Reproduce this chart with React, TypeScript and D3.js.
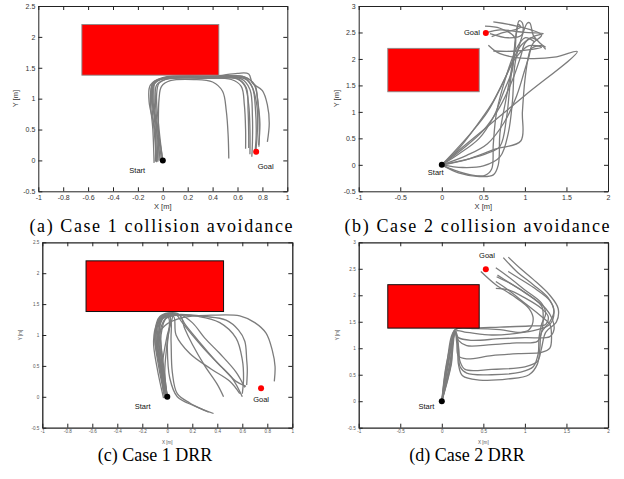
import React, { useEffect, useRef } from "react"
import * as d3 from "d3"

type Pt = [number, number]

// obstacle and goal positions, metres
const obstacleX: Pt = [-0.65, 0.45]
const obstacleY: Pt = [1.38, 2.2]
const startPoint: Pt = [0, 0]
const goalCase1: Pt = [0.75, 0.14]
const goalCase2: Pt = [0.53, 2.49]

const xTicksCase1 = [-1, -0.8, -0.6, -0.4, -0.2, 0, 0.2, 0.4, 0.6, 0.8, 1]
const yTicksCase1 = [-0.5, 0, 0.5, 1, 1.5, 2, 2.5]
const xTicksCase2 = [-1, -0.5, 0, 0.5, 1, 1.5, 2]
const yTicksCase2 = [-0.5, 0, 0.5, 1, 1.5, 2, 2.5, 3]

const captionLabels = [
  "(a) Case 1 collision avoidance",
  "(b) Case 2 collision avoidance",
  "(c) Case 1 DRR",
  "(d) Case 2 DRR",
]

// (a) case 1, collision avoidance runs
const case1Avoid: Pt[][] = [
  [[-0.03, 0.0], [-0.035, 0.5], [-0.03, 1.0], [-0.01, 1.2], [0.06, 1.29], [0.25, 1.31], [0.4, 1.27], [0.48, 1.12], [0.51, 0.8], [0.525, 0.4], [0.53, 0.03]],
  [[-0.01, 0.0], [-0.04, 0.5], [-0.06, 1.0], [-0.05, 1.22], [0.02, 1.31], [0.3, 1.33], [0.55, 1.31], [0.63, 1.2], [0.655, 0.9], [0.665, 0.5], [0.665, 0.19]],
  [[-0.05, -0.03], [-0.06, 0.5], [-0.08, 1.0], [-0.07, 1.23], [0.0, 1.32], [0.35, 1.34], [0.6, 1.32], [0.67, 1.18], [0.685, 0.8], [0.69, 0.4], [0.69, 0.2]],
  [[-0.07, -0.04], [-0.08, 0.5], [-0.1, 1.0], [-0.08, 1.25], [0.0, 1.33], [0.4, 1.33], [0.63, 1.32], [0.7, 1.15], [0.72, 0.7], [0.72, 0.3], [0.715, 0.06]],
  [[0.0, 0.0], [-0.04, 0.5], [-0.09, 1.0], [-0.08, 1.25], [0.02, 1.34], [0.45, 1.35], [0.66, 1.32], [0.72, 1.18], [0.745, 0.8], [0.75, 0.4], [0.74, 0.12]],
  [[-0.06, -0.02], [-0.06, 0.45], [-0.11, 0.95], [-0.1, 1.22], [0.0, 1.34], [0.45, 1.36], [0.68, 1.33], [0.74, 1.2], [0.77, 0.8], [0.775, 0.45], [0.772, 0.22]],
  [[-0.04, -0.02], [-0.05, 0.5], [-0.07, 1.0], [-0.06, 1.27], [0.04, 1.35], [0.4, 1.36], [0.6, 1.41], [0.69, 1.4], [0.72, 1.25], [0.8, 1.13], [0.84, 0.9], [0.855, 0.6], [0.84, 0.3]],
  [[-0.02, 0.0], [-0.05, 0.5], [-0.08, 1.0], [-0.07, 1.26], [0.03, 1.34], [0.45, 1.35], [0.64, 1.36], [0.71, 1.22], [0.755, 0.9], [0.76, 0.5], [0.745, 0.1]],
  [[-0.05, 0.0], [-0.07, 0.5], [-0.09, 1.0], [-0.08, 1.24], [0.0, 1.32], [0.4, 1.34], [0.6, 1.32], [0.66, 1.2], [0.69, 0.9], [0.7, 0.5], [0.7, 0.1]],
  [[0.0, -0.01], [-0.03, 0.5], [-0.05, 1.05], [-0.03, 1.25], [0.05, 1.33], [0.45, 1.37], [0.66, 1.35], [0.74, 1.22], [0.76, 1.0], [0.78, 0.6], [0.77, 0.25]],
]

// (b) case 2, collision avoidance runs
const case2Avoid: Pt[][] = [
  [[0, 0], [0.5, 0.66], [1.0, 1.31], [1.63, 2.14], [1.38, 2.04], [1.02, 2.01], [0.7, 2.1], [0.56, 2.26]],
  [[0, 0], [0.2, -0.15], [0.45, -0.22], [0.62, -0.19], [0.68, 0.0], [0.7, 0.6], [0.78, 1.3], [0.86, 2.0], [0.9, 2.5], [0.93, 2.72], [0.97, 2.68], [0.96, 2.45], [0.8, 2.4], [0.58, 2.48]],
  [[0, 0], [0.25, -0.05], [0.5, -0.02], [0.7, 0.15], [0.8, 0.6], [0.85, 1.2], [0.88, 1.9], [0.95, 2.35], [1.03, 2.68], [1.06, 2.68], [1.1, 2.45], [1.18, 2.3], [1.25, 2.22]],
  [[0, 0], [0.3, 0.1], [0.65, 0.3], [0.95, 0.45], [0.97, 1.0], [1.0, 1.6], [1.05, 2.1], [1.1, 2.3], [1.2, 2.45], [0.9, 2.62], [0.62, 2.7]],
  [[0, 0], [0.15, 0.25], [0.35, 0.6], [0.55, 1.0], [0.72, 1.5], [0.85, 1.95], [0.95, 2.25], [1.1, 2.42], [1.22, 2.48], [1.0, 2.5], [0.7, 2.55], [0.55, 2.5]],
  [[0, 0], [0.2, 0.3], [0.4, 0.7], [0.6, 1.15], [0.75, 1.6], [0.88, 2.0], [1.05, 2.25], [1.2, 2.22], [0.9, 2.15], [0.62, 2.15]],
  [[0, 0], [0.25, 0.3], [0.5, 0.65], [0.7, 1.1], [0.85, 1.6], [0.95, 2.05], [1.0, 2.3], [1.08, 2.4], [1.15, 2.35]],
  [[0, 0], [0.2, 0.2], [0.45, 0.5], [0.62, 0.9], [0.75, 1.4], [0.85, 1.8], [0.88, 2.3], [0.92, 2.65], [0.95, 2.6], [0.7, 2.48], [0.6, 2.42]],
  [[0, 0], [0.3, 0.18], [0.55, 0.4], [0.75, 0.8], [0.9, 1.3], [1.0, 1.8], [1.05, 2.05], [1.08, 2.2], [1.2, 2.25], [1.25, 2.18]],
  [[0, 0], [0.35, 0.12], [0.55, 0.22], [0.7, 0.35], [0.78, 0.9], [0.82, 1.5], [0.86, 2.0], [0.88, 2.4], [0.7, 2.58], [0.52, 2.62]],
  [[0, 0], [0.15, -0.1], [0.35, -0.19], [0.52, -0.2], [0.6, -0.08], [0.62, 0.4], [0.66, 1.0], [0.78, 1.7], [0.9, 2.2], [1.0, 2.4], [1.12, 2.32]],
]

// (c) case 1, DRR runs
const case1Drr: Pt[][] = [
  [[0, 0], [-0.05, 0.5], [-0.08, 0.95], [-0.02, 1.15], [0.12, 1.28], [0.35, 1.32], [0.58, 1.31], [0.7, 1.2], [0.79, 1.03], [0.84, 0.75], [0.862, 0.49], [0.856, 0.25]],
  [[-0.01, 0], [-0.06, 0.5], [-0.09, 1.0], [-0.05, 1.27], [0.08, 1.33], [0.3, 1.3], [0.47, 1.24], [0.57, 1.08], [0.62, 0.9], [0.635, 0.6], [0.64, 0.45], [0.635, 0.19]],
  [[0, 0], [-0.04, 0.5], [-0.07, 1.0], [-0.04, 1.28], [0.06, 1.34], [0.12, 1.2], [0.2, 1.0], [0.32, 0.72], [0.45, 0.45], [0.55, 0.25], [0.63, 0.17]],
  [[-0.02, 0], [-0.07, 0.5], [-0.1, 1.0], [-0.06, 1.3], [0.08, 1.35], [0.15, 1.15], [0.26, 0.88], [0.4, 0.55], [0.52, 0.3], [0.6, 0.0]],
  [[0, 0], [-0.03, 0.5], [-0.05, 1.0], [0.0, 1.3], [0.1, 1.32], [0.14, 1.1], [0.2, 0.85], [0.3, 0.5], [0.4, 0.2], [0.45, 0.0]],
  [[0, 0], [-0.05, 0.5], [-0.08, 1.0], [-0.04, 1.3], [0.02, 1.3], [0.03, 0.9], [0.04, 0.4], [0.08, 0.05], [0.18, -0.1], [0.33, -0.25]],
  [[-0.02, -0.02], [-0.06, 0.5], [-0.09, 1.0], [-0.05, 1.3], [0.01, 1.28], [0.0, 0.8], [0.02, 0.3], [0.08, 0.0], [0.22, -0.15], [0.37, -0.27]],
  [[0, 0], [-0.04, 0.5], [-0.06, 1.0], [-0.02, 1.25], [0.05, 1.3], [0.07, 1.0], [0.18, 0.7], [0.35, 0.45], [0.5, 0.25], [0.58, 0.05]],
  [[0, 0], [-0.05, 0.5], [-0.07, 1.0], [-0.03, 1.28], [0.1, 1.33], [0.2, 1.2], [0.3, 0.95], [0.42, 0.7], [0.55, 0.4], [0.62, 0.15]],
  [[-0.01, 0], [-0.06, 0.5], [-0.1, 0.95], [-0.07, 1.2], [0.0, 1.3], [0.1, 1.32], [0.25, 1.3], [0.42, 1.2], [0.55, 0.95], [0.6, 0.6], [0.61, 0.3], [0.6, 0.05]],
  [[-0.03, -0.02], [-0.08, 0.45], [-0.11, 0.9], [-0.08, 1.2], [-0.03, 1.32], [0.02, 1.3], [0.0, 0.9], [-0.02, 0.4], [0.0, 0.0]],
  [[-0.01, 0], [-0.04, 0.6], [-0.06, 1.1], [-0.05, 1.3], [0.04, 1.34], [0.0, 1.0], [-0.04, 0.5], [-0.03, 0.05]],
]

// (d) case 2, DRR runs
const case2Drr: Pt[][] = [
  [[0, 0], [0.055, 0.7], [0.16, 1.32], [0.19, 1.1], [0.2, 0.7], [0.25, 0.48], [0.45, 0.4], [0.8, 0.42], [1.05, 0.5], [1.15, 0.7], [1.18, 1.0], [1.2, 1.3], [1.3, 1.5], [1.35, 1.7], [1.28, 1.95], [1.1, 2.2], [0.9, 2.45], [0.74, 2.71]],
  [[0, 0], [0.11, 0.7], [0.16, 1.3], [0.2, 1.0], [0.22, 0.65], [0.3, 0.53], [0.6, 0.5], [0.95, 0.55], [1.1, 0.65], [1.16, 0.9], [1.17, 1.2], [1.2, 1.45], [1.25, 1.65], [1.2, 1.85], [1.0, 2.1], [0.8, 2.35], [0.65, 2.52]],
  [[0, 0], [0.07, 0.7], [0.16, 1.32], [0.18, 1.1], [0.2, 0.85], [0.3, 0.8], [0.6, 0.86], [0.95, 0.9], [1.2, 0.92], [1.3, 1.0], [1.32, 1.25], [1.3, 1.45], [1.2, 1.6], [1.0, 1.85], [0.8, 2.1], [0.65, 2.26]],
  [[0, 0], [0.095, 0.7], [0.16, 1.3], [0.2, 1.15], [0.3, 1.05], [0.6, 1.07], [0.9, 1.1], [1.15, 1.13], [1.2, 1.3], [1.22, 1.6], [1.2, 1.8], [1.0, 2.05], [0.8, 2.25], [0.67, 2.38]],
  [[0, 0], [0.08, 0.7], [0.16, 1.32], [0.3, 1.3], [0.6, 1.25], [0.9, 1.28], [1.15, 1.35], [1.3, 1.45], [1.35, 1.7], [1.3, 1.9], [1.1, 2.15], [0.9, 2.35], [0.8, 2.45]],
  [[0, 0], [0.115, 0.7], [0.16, 1.35], [0.4, 1.37], [0.7, 1.35], [0.95, 1.3], [1.05, 1.35], [1.1, 1.55], [1.05, 1.75], [0.85, 2.0], [0.65, 2.2], [0.47, 2.45]],
  [[0, 0], [0.06, 0.7], [0.16, 1.35], [0.35, 1.38], [0.7, 1.4], [1.05, 1.42], [1.25, 1.45], [1.28, 1.6], [1.2, 1.75], [1.0, 1.95], [0.8, 2.1], [0.65, 2.13]],
  [[0, 0], [0.1, 0.7], [0.16, 1.3], [0.2, 1.2], [0.35, 1.15], [0.7, 1.18], [1.0, 1.2], [1.3, 1.22], [1.35, 1.35], [1.33, 1.55], [1.25, 1.75], [1.05, 2.0], [0.85, 2.2], [0.66, 2.35]],
  [[0, 0], [0.075, 0.7], [0.17, 1.32], [0.2, 1.05], [0.22, 0.75], [0.28, 0.6], [0.6, 0.6], [1.0, 0.65], [1.15, 0.75], [1.2, 1.0], [1.25, 1.3], [1.38, 1.5], [1.4, 1.75], [1.3, 2.0], [1.1, 2.3], [0.95, 2.5], [0.8, 2.72]],
]

const panels = [
  { runs: case1Avoid, goal: goalCase1, xDomain: [-1, 1], yDomain: [-0.5, 2.5], xTicks: xTicksCase1, yTicks: yTicksCase1,
    left: 38.3, right: 287.3, top: 6, bottom: 191.3, small: false,
    startLabel: [-0.205, -0.158], goalLabel: [0.826, -0.089], caption: 0, capX: 161, capY: 232, capLen: 263 },
  { runs: case2Avoid, goal: goalCase2, xDomain: [-1, 2], yDomain: [-0.5, 3], xTicks: xTicksCase2, yTicks: yTicksCase2,
    left: 358.7, right: 608, top: 6, bottom: 191.3, small: false,
    startLabel: [-0.073, -0.15], goalLabel: [0.363, 2.5], caption: 1, capX: 477, capY: 232, capLen: 265 },
  { runs: case1Drr, goal: goalCase1, xDomain: [-1, 1], yDomain: [-0.5, 2.5], xTicks: xTicksCase1, yTicks: yTicksCase1,
    left: 42.3, right: 292.3, top: 242.3, bottom: 427.7, small: true,
    startLabel: [-0.198, -0.154], goalLabel: [0.75, -0.036], caption: 2, capX: 155, capY: 461, capLen: 0 },
  { runs: case2Drr, goal: goalCase2, xDomain: [-1, 2], yDomain: [-0.5, 3], xTicks: xTicksCase2, yTicks: yTicksCase2,
    left: 358.7, right: 608, top: 242.3, bottom: 427.7, small: true,
    startLabel: [-0.186, -0.104], goalLabel: [0.544, 2.76], caption: 3, capX: 467, capY: 461, capLen: 0 },
]

const drawPanel = (svg, p) => {
  const x = d3.scaleLinear().domain(p.xDomain).range([p.left, p.right])
  const y = d3.scaleLinear().domain(p.yDomain).range([p.bottom, p.top])
  const tickFont = p.small ? 4.6 : 7
  const tickColor = p.small ? "#555" : "#333"
  const g = svg.append("g")

  const fmt = d => String(d)
  const styleAxis = sel => {
    sel.select(".domain").attr("stroke", "#222").attr("stroke-width", p.small ? 1.3 : 1)
    sel.selectAll(".tick line").attr("stroke", "#222")
    sel.selectAll(".tick text").attr("fill", tickColor).attr("font-size", tickFont)
    sel.attr("font-family", "Liberation Sans, Arial, sans-serif")
  }

  g.append("g").attr("transform", `translate(0,${p.bottom})`)
    .call(d3.axisBottom(x).tickValues(p.xTicks).tickFormat(fmt).tickSizeInner(-4).tickSizeOuter(0).tickPadding(p.small ? 2.5 : 4))
    .call(styleAxis)
  g.append("g").attr("transform", `translate(0,${p.top})`)
    .call(d3.axisTop(x).tickValues(p.xTicks).tickFormat(() => "").tickSizeInner(-4).tickSizeOuter(0))
    .call(styleAxis)
  g.append("g").attr("transform", `translate(${p.left},0)`)
    .call(d3.axisLeft(y).tickValues(p.yTicks).tickFormat(fmt).tickSizeInner(-4).tickSizeOuter(0).tickPadding(3))
    .call(styleAxis)
  g.append("g").attr("transform", `translate(${p.right},0)`)
    .call(d3.axisRight(y).tickValues(p.yTicks).tickFormat(() => "").tickSizeInner(-4).tickSizeOuter(0))
    .call(styleAxis)

  // axis titles
  const titleFont = p.small ? 4.6 : 7.5
  g.append("text")
    .attr("x", (p.left + p.right) / 2)
    .attr("y", p.bottom + (p.small ? 16.5 : 18))
    .attr("text-anchor", "middle")
    .attr("font-family", "Liberation Sans, Arial, sans-serif")
    .attr("font-size", titleFont)
    .attr("fill", tickColor)
    .text("X [m]")
  g.append("text")
    .attr("transform", `translate(${p.left - 20},${(p.top + p.bottom) / 2}) rotate(-90)`)
    .attr("text-anchor", "middle")
    .attr("font-family", "Liberation Sans, Arial, sans-serif")
    .attr("font-size", titleFont)
    .attr("fill", tickColor)
    .text("Y [m]")

  const line = d3.line<Pt>()
    .x(d => x(d[0]))
    .y(d => y(d[1]))
    .curve(d3.curveCatmullRom.alpha(0.5))

  g.append("g")
    .selectAll("path")
    .data(p.runs)
    .enter()
    .append("path")
    .attr("d", d => line(d))
    .attr("fill", "none")
    .attr("stroke", "#7c7c7c")
    .attr("stroke-width", 1.3)

  g.append("rect")
    .attr("x", x(obstacleX[0]))
    .attr("y", y(obstacleY[1]))
    .attr("width", x(obstacleX[1]) - x(obstacleX[0]))
    .attr("height", y(obstacleY[0]) - y(obstacleY[1]))
    .attr("fill", "#ff0000")
    .attr("stroke", p.small ? "#111" : "#8a8a8a")
    .attr("stroke-width", p.small ? 1 : 0.9)

  g.append("circle").attr("cx", x(startPoint[0])).attr("cy", y(startPoint[1])).attr("r", 3).attr("fill", "#000")
  g.append("circle").attr("cx", x(p.goal[0])).attr("cy", y(p.goal[1])).attr("r", 3).attr("fill", "#ff0000")

  const marks = [["Start", p.startLabel], ["Goal", p.goalLabel]]
  g.selectAll(".mark-label")
    .data(marks)
    .enter()
    .append("text")
    .attr("class", "mark-label")
    .attr("x", d => x(d[1][0]))
    .attr("y", d => y(d[1][1]))
    .attr("dy", "0.35em")
    .attr("text-anchor", "middle")
    .attr("font-family", "Liberation Sans, Arial, sans-serif")
    .attr("font-size", 7.5)
    .attr("fill", "#111")
    .text(d => d[0])

  const cap = svg.append("text")
    .attr("x", p.capX)
    .attr("y", p.capY)
    .attr("text-anchor", "middle")
    .attr("font-family", "Liberation Serif, Times New Roman, serif")
    .attr("font-size", 18)
    .attr("fill", "#000")
    .text(captionLabels[p.caption])
  if (p.capLen) cap.attr("textLength", p.capLen).attr("lengthAdjust", "spacing")
}

export default function App() {
  const ref = useRef(null)
  useEffect(() => {
    const svg = d3.select(ref.current)
    svg.selectAll("*").remove()
    svg.append("rect").attr("width", 624).attr("height", 479).attr("fill", "#fff")
    panels.forEach(p => drawPanel(svg, p))
  }, [])

  return (
    <svg ref={ref} width={624} height={479}
      style={{ position: "absolute", left: 0, top: 0, display: "block" }} />
  )
}
